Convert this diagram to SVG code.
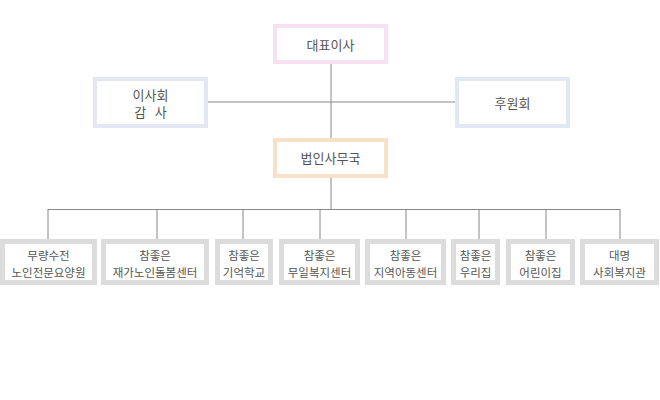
<svg xmlns="http://www.w3.org/2000/svg" width="660" height="400" viewBox="0 0 660 400">
<style>
.b{fill:#fff}
.top{stroke-width:4}
.pink{stroke:#f7e0f2}
.blue{stroke:#e3e6f3}
.peach{stroke:#f7e1c8}
.grey{stroke:#dcdcdc;stroke-width:5}
.t{font-family:"Noto Sans CJK KR","Noto Sans",sans-serif;fill:#555;text-anchor:middle}
.t13{font-size:13px}
.t11{font-size:11.5px}
#connectors line{stroke:#888;stroke-width:1}
</style>
<rect width="660" height="400" fill="#fff"/>
<g id="connectors">
<line x1="331" y1="64" x2="331" y2="140"/>
<line x1="208" y1="102" x2="457" y2="102"/>
<line x1="331" y1="178" x2="331" y2="209.5"/>
<line x1="48" y1="209.5" x2="620" y2="209.5"/>
<line x1="48" y1="209" x2="48" y2="240"/>
<line x1="157" y1="209" x2="157" y2="240"/>
<line x1="243" y1="209" x2="243" y2="240"/>
<line x1="320" y1="209" x2="320" y2="240"/>
<line x1="406" y1="209" x2="406" y2="240"/>
<line x1="479" y1="209" x2="479" y2="240"/>
<line x1="546" y1="209" x2="546" y2="240"/>
<line x1="620" y1="209" x2="620" y2="240"/>
</g>
<g id="ceo"><rect class="b top pink" x="275" y="26" width="111" height="36"/><text class="t t13" x="330.5" y="49.5">대표이사</text></g>
<g id="board"><rect class="b top blue" x="95" y="79" width="111" height="47"/><text class="t t13" x="150.5" y="99.5">이사회</text><text class="t t13" x="150.5" y="117" xml:space="preserve">감   사</text></g>
<g id="supporters"><rect class="b top blue" x="457" y="79" width="111" height="47"/><text class="t t13" x="512.5" y="107.5">후원회</text></g>
<g id="office"><rect class="b top peach" x="275" y="140" width="111" height="36"/><text class="t t13" x="330.5" y="163">법인사무국</text></g>
<g id="n1"><rect class="b grey" x="2.5" y="241.5" width="92" height="41"/><text class="t t11" x="48.5" y="259.5">무량수전</text><text class="t t11" x="48.5" y="277">노인전문요양원</text></g>
<g id="n2"><rect class="b grey" x="103.5" y="241.5" width="103" height="41"/><text class="t t11" x="155" y="259.5">참좋은</text><text class="t t11" x="155" y="277">재가노인돌봄센터</text></g>
<g id="n3"><rect class="b grey" x="217.5" y="241.5" width="53" height="41"/><text class="t t11" x="244" y="259.5">참좋은</text><text class="t t11" x="244" y="277">기억학교</text></g>
<g id="n4"><rect class="b grey" x="281.5" y="241.5" width="76" height="41"/><text class="t t11" x="319.5" y="259.5">참좋은</text><text class="t t11" x="319.5" y="277">무일복지센터</text></g>
<g id="n5"><rect class="b grey" x="367.5" y="241.5" width="76" height="41"/><text class="t t11" x="405.5" y="259.5">참좋은</text><text class="t t11" x="405.5" y="277">지역아동센터</text></g>
<g id="n6"><rect class="b grey" x="453.5" y="241.5" width="44" height="41"/><text class="t t11" x="475.5" y="259.5">참좋은</text><text class="t t11" x="475.5" y="277">우리집</text></g>
<g id="n7"><rect class="b grey" x="508.5" y="241.5" width="64" height="41"/><text class="t t11" x="540.5" y="259.5">참좋은</text><text class="t t11" x="540.5" y="277">어린이집</text></g>
<g id="n8"><rect class="b grey" x="582.5" y="241.5" width="74" height="41"/><text class="t t11" x="619.5" y="259.5">대명</text><text class="t t11" x="619.5" y="277">사회복지관</text></g>
</svg>
